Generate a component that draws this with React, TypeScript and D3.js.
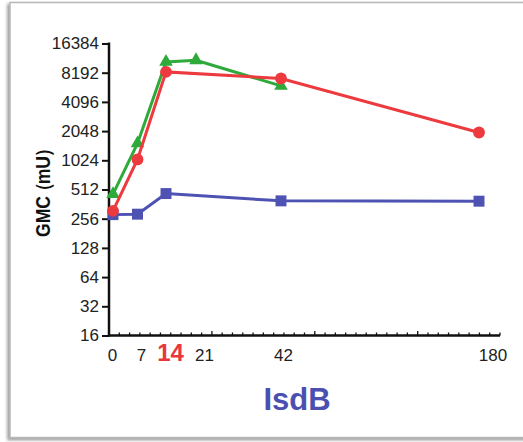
import { useEffect, useRef } from "react";
import * as d3 from "d3";

const days = [0, 7, 14, 21, 42, 180];
const yTicks = [16, 32, 64, 128, 256, 512, 1024, 2048, 4096, 8192, 16384];

const blueDays = [0, 7, 14, 42, 180];
const blueValues = [282, 285, 465, 391, 388];
const greenDays = [0, 7, 14, 21, 42];
const greenValues = [458, 1528, 10580, 11020, 5990];
const redDays = [0, 7, 14, 42, 180];
const redValues = [308, 1045, 8350, 7140, 1980];

const xTickLabels = ["0", "7", "14", "21", "42", "180"];
const highlightDay = 14;

const FONT = "'Liberation Sans', Arial, Helvetica, sans-serif";

const App = () => {
  const ref = useRef<SVGSVGElement | null>(null);

  useEffect(() => {
    if (!ref.current) return;
    const width = 523;
    const height = 442;

    const svg = d3.select(ref.current);
    svg.selectAll("*").remove();
    svg.attr("width", width).attr("height", height);

    // frame with soft shadow
    const defs = svg.append("defs");
    const f = defs
      .append("filter")
      .attr("id", "shadow")
      .attr("x", "-5%")
      .attr("y", "-5%")
      .attr("width", "110%")
      .attr("height", "110%");
    f.append("feDropShadow")
      .attr("dx", -2)
      .attr("dy", 2)
      .attr("stdDeviation", 1.5)
      .attr("flood-color", "#555")
      .attr("flood-opacity", 0.6);

    svg
      .append("rect")
      .attr("x", 10)
      .attr("y", 2.5)
      .attr("width", 530)
      .attr("height", 435)
      .attr("fill", "#fff")
      .attr("stroke", "#b8b8b8")
      .attr("stroke-width", 1.5)
      .attr("filter", "url(#shadow)");

    const top = 43.5;
    const bottom = 335.5;
    const left = 109;

    const y = d3.scaleLog().base(2).domain([16, 16384]).range([bottom, top]);
    // broken time axis: piecewise scale for points and for the hand placed labels
    const x = d3.scaleLinear().domain(days).range([113, 137.5, 166, 196, 281, 479]);
    const xLabel = d3
      .scaleLinear()
      .domain(days)
      .range([112.5, 141.5, 170.5, 204.5, 283.5, 493]);
    // uniform tick ruler along the bottom
    const ruler = d3.scaleLinear().domain([0, 38]).range([left, 500]);

    const g = svg.append("g");

    // y axis
    const yAxis = g
      .append("g")
      .attr("transform", `translate(${left},0)`)
      .call(
        d3
          .axisLeft(y)
          .tickValues(yTicks)
          .tickFormat((d) => String(d))
          .tickSize(7)
          .tickPadding(3)
      );
    yAxis.select(".domain").remove();
    yAxis.selectAll(".tick line").attr("stroke", "#111").attr("stroke-width", 2);
    yAxis
      .selectAll(".tick text")
      .attr("font-family", FONT)
      .attr("font-size", 17)
      .attr("fill", "#222");

    g.append("line")
      .attr("x1", left)
      .attr("x2", left)
      .attr("y1", top - 1)
      .attr("y2", bottom + 1)
      .attr("stroke", "#111")
      .attr("stroke-width", 2.5);

    // x axis line + ruler ticks
    g.append("line")
      .attr("x1", left)
      .attr("x2", 500)
      .attr("y1", bottom)
      .attr("y2", bottom)
      .attr("stroke", "#111")
      .attr("stroke-width", 2.5);

    g.append("g")
      .selectAll("line")
      .data(d3.range(0, 39))
      .join("line")
      .attr("x1", (d) => ruler(d))
      .attr("x2", (d) => ruler(d))
      .attr("y1", bottom)
      .attr("y2", (d) => (d % 10 === 0 ? bottom - 4.5 : bottom - 3))
      .attr("stroke", "#111")
      .attr("stroke-width", 1.3);

    g.append("g")
      .selectAll("text")
      .data(days)
      .join("text")
      .attr("x", (d) => xLabel(d))
      .attr("y", 361)
      .attr("text-anchor", "middle")
      .attr("font-family", FONT)
      .attr("font-size", (d) => (d === highlightDay ? 24 : 17))
      .attr("font-weight", (d) => (d === highlightDay ? "bold" : "normal"))
      .attr("fill", (d) => (d === highlightDay ? "#e8383d" : "#222"))
      .text((_, i) => xTickLabels[i]);

    // axis titles
    const yTitle = g
      .append("text")
      .attr("transform", `translate(50,237) rotate(-90) scale(0.88,1)`)
      .attr("text-anchor", "start")
      .attr("font-family", FONT)
      .attr("font-size", 20)
      .attr("font-weight", "bold")
      .attr("fill", "#111");
    yTitle.append("tspan").text("GMC");
    yTitle.append("tspan").attr("dx", -5).text("（");
    yTitle.append("tspan").attr("dx", -2).text("mU");
    yTitle.append("tspan").attr("dx", -1).text("）");

    g.append("text")
      .attr("x", 297)
      .attr("y", 410)
      .attr("text-anchor", "middle")
      .attr("font-family", FONT)
      .attr("font-size", 31)
      .attr("font-weight", "bold")
      .attr("fill", "#4a4fb0")
      .text("IsdB");

    // series
    const series = [
      { days: blueDays, values: blueValues, color: "#4e52b3", shape: "square" },
      { days: greenDays, values: greenValues, color: "#2eaa3a", shape: "triangle" },
      { days: redDays, values: redValues, color: "#ec3a3e", shape: "circle" },
    ];

    const line = d3
      .line<[number, number]>()
      .x((d) => x(d[0]))
      .y((d) => y(d[1]));

    series.forEach((s) => {
      const pts = s.days.map((d, i) => [d, s.values[i]] as [number, number]);
      g.append("path")
        .datum(pts)
        .attr("d", line)
        .attr("fill", "none")
        .attr("stroke", s.color)
        .attr("stroke-width", 3);

      const sym =
        s.shape === "square"
          ? d3.symbolSquare
          : s.shape === "triangle"
          ? d3.symbolTriangle
          : d3.symbolCircle;
      const size = s.shape === "square" ? 120 : s.shape === "triangle" ? 80 : 110;
      g.append("g")
        .selectAll("path")
        .data(pts)
        .join("path")
        .attr("transform", (d) => `translate(${x(d[0])},${y(d[1])})`)
        .attr("d", d3.symbol().type(sym).size(size)())
        .attr("fill", s.color);
    });
  }, []);

  return (
    <svg
      ref={ref}
      style={{ position: "absolute", left: 0, top: 0, display: "block" }}
    ></svg>
  );
};

export default App;
